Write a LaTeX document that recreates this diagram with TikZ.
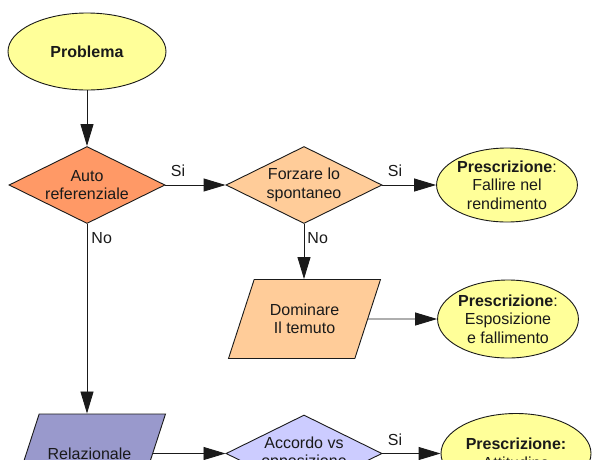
\documentclass[tikz,border=0pt]{standalone}
\usepackage{fontspec}
\setmainfont{Liberation Sans}
\usetikzlibrary{shapes.geometric,arrows.meta}
\definecolor{yel}{HTML}{FFFF99}
\definecolor{orng}{HTML}{FF9966}
\definecolor{peach}{HTML}{FFCC99}
\definecolor{lav}{HTML}{9999CC}
\definecolor{lilac}{HTML}{CCCCFF}
\definecolor{ink}{HTML}{1A1A1A}
\begin{document}
\begin{tikzpicture}[x=1pt,y=-1pt,
  every node/.style={font=\fontsize{16}{18.5}\selectfont, text=ink},
  base/.style={draw=ink, line width=0.9pt, inner sep=0pt, align=center},
  ell/.style={base, ellipse, fill=yel},
  dia/.style={base, diamond, minimum width=156pt, minimum height=77pt},
  dtext/.style={inner sep=0pt, align=center},
  para/.style={base, trapezium, trapezium left angle=72, trapezium right angle=108,
    trapezium stretches body, text height=79pt, text depth=0pt, text width=0pt,
    minimum width=152pt},
  conn/.style={draw=ink, line width=0.9pt, -{Triangle[length=22pt,width=13pt]}},
  lab/.style={inner sep=0pt}
]
\useasboundingbox (0,0) rectangle (592,459);
\clip (0,0) rectangle (592,459);

\node[ell, minimum width=158pt, minimum height=77pt] (prob) at (87,51.5) {\textbf{Problema}};
\node[dia, fill=orng, label={[dtext]center:Auto\\referenziale}] (auto) at (87,185) {};
\node[dia, fill=peach, label={[dtext]center:Forzare lo\\spontaneo}] (forz) at (304,185) {};
\node[ell, minimum width=130pt, minimum height=74pt] (pre1) at (507,185) {\textbf{Prescrizione}:\\Fallire nel\\rendimento};
\node[para, fill=peach, label={[dtext]center:Dominare\\Il temuto}] (dom) at (304.5,319) {};
\node[ell, minimum width=134pt, minimum height=78pt] (pre2) at (508,319) {\textbf{Prescrizione}:\\Esposizione\\e fallimento};
\node[para, fill=lav, label={[dtext]center:Relazionale}] (rel) at (89.5,453.5) {};
\node[dia, fill=lilac, label={[dtext]center:Accordo vs\\opposizione}] (acc) at (304,453.5) {};
\node[ell, minimum width=150pt, minimum height=80pt] (pre3) at (516,453.5) {\textbf{Prescrizione:}\\Attitudine};

\draw[conn] (prob) -- (auto);
\draw[conn] (auto) -- node[lab, pos=0, anchor=south west, xshift=5pt, yshift=8pt] {Si} (forz);
\draw[conn] (forz) -- node[lab, pos=0, anchor=south west, xshift=5pt, yshift=8pt] {Si} (pre1);
\draw[conn] (forz) -- node[lab, pos=0, anchor=north west, xshift=3pt, yshift=-8pt] {No} (forz.south |- dom.north);
\draw[conn] (dom) -- (pre2);
\draw[conn] (auto.south) -- node[lab, pos=0, anchor=north west, xshift=4pt, yshift=-8pt] {No} (auto.south |- rel.north);
\draw[conn] (rel) -- (acc);
\draw[conn] (acc) -- node[lab, pos=0, anchor=south west, xshift=5pt, yshift=7pt] {Si} (pre3);
\end{tikzpicture}
\end{document}
